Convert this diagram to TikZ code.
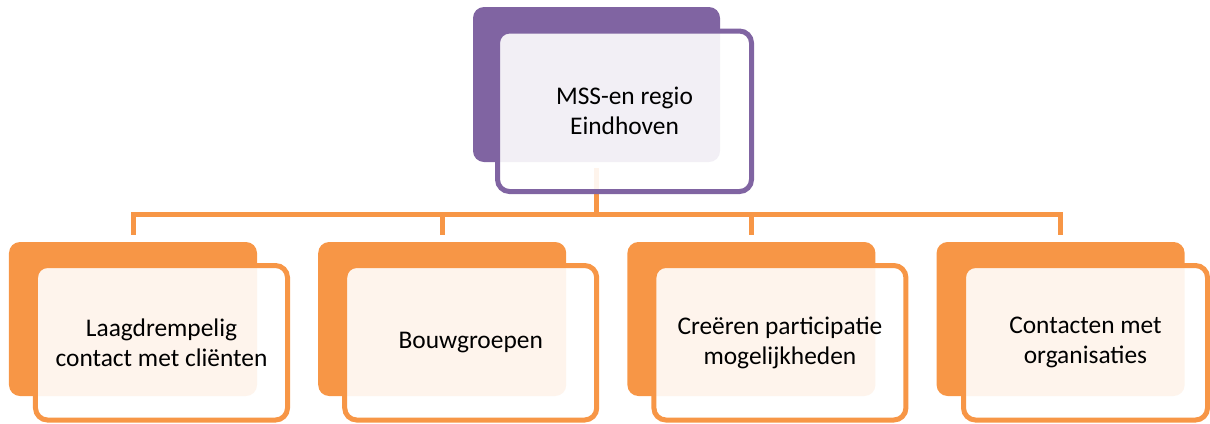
\documentclass[tikz,border=0pt]{standalone}
\usepackage{fontspec}
\setmainfont{Carlito}
\usetikzlibrary{backgrounds}
\definecolor{accorange}{HTML}{F79646}
\definecolor{accpurple}{HTML}{8064A2}
\begin{document}
\begin{tikzpicture}[x=1bp,y=-1bp,
  backbox/.style={rectangle, rounded corners=11bp, inner sep=0pt, draw=none},
  frontbox/.style={rectangle, rounded corners=12bp, inner sep=0pt, line width=5bp,
    fill=white, fill opacity=0.9, text opacity=1, align=center,
    font=\fontsize{25.5}{30}\selectfont},
  childback/.style={backbox, fill=accorange, minimum width=248bp, minimum height=154bp},
  childfront/.style={frontbox, draw=accorange, minimum width=252bp, minimum height=154.5bp},
  conn/.style={draw=accorange, line width=5bp}]
\useasboundingbox (0,0) rectangle (1210,423);

% top level
\node[backbox, fill=accpurple, minimum width=247bp, minimum height=155bp] (t) at (596.5,84.5) {};
\node[frontbox, draw=accpurple, minimum width=254bp, minimum height=160.5bp] (tf) at (624.5,111.25) {MSS-en regio\\Eindhoven};

% second level
\node[childback] (c1) at (133,319) {};
\node[childfront] (c1f) at (161.5,342.75) {Laagdrempelig\\contact met cliënten};
\node[childback] (c2) at (442.2,319) {};
\node[childfront] (c2f) at (470.7,342.75) {Bouwgroepen};
\node[childback] (c3) at (751.4,319) {};
\node[childfront] (c3f) at (779.9,342.75) {Creëren participatie\\mogelijkheden};
\node[childback] (c4) at (1060.6,319) {};
\node[childfront, minimum width=244bp] (c4f) at (1085.5,342.75) {Contacten met\\organisaties};

% connectors
\begin{pgfonlayer}{background}
\foreach \c in {c1,c2,c3,c4}
  \draw[conn, shorten <=6bp, shorten >=7bp] (t.south) -- ++(0,52.5) -| (\c.north);
\end{pgfonlayer}
\end{tikzpicture}
\end{document}
